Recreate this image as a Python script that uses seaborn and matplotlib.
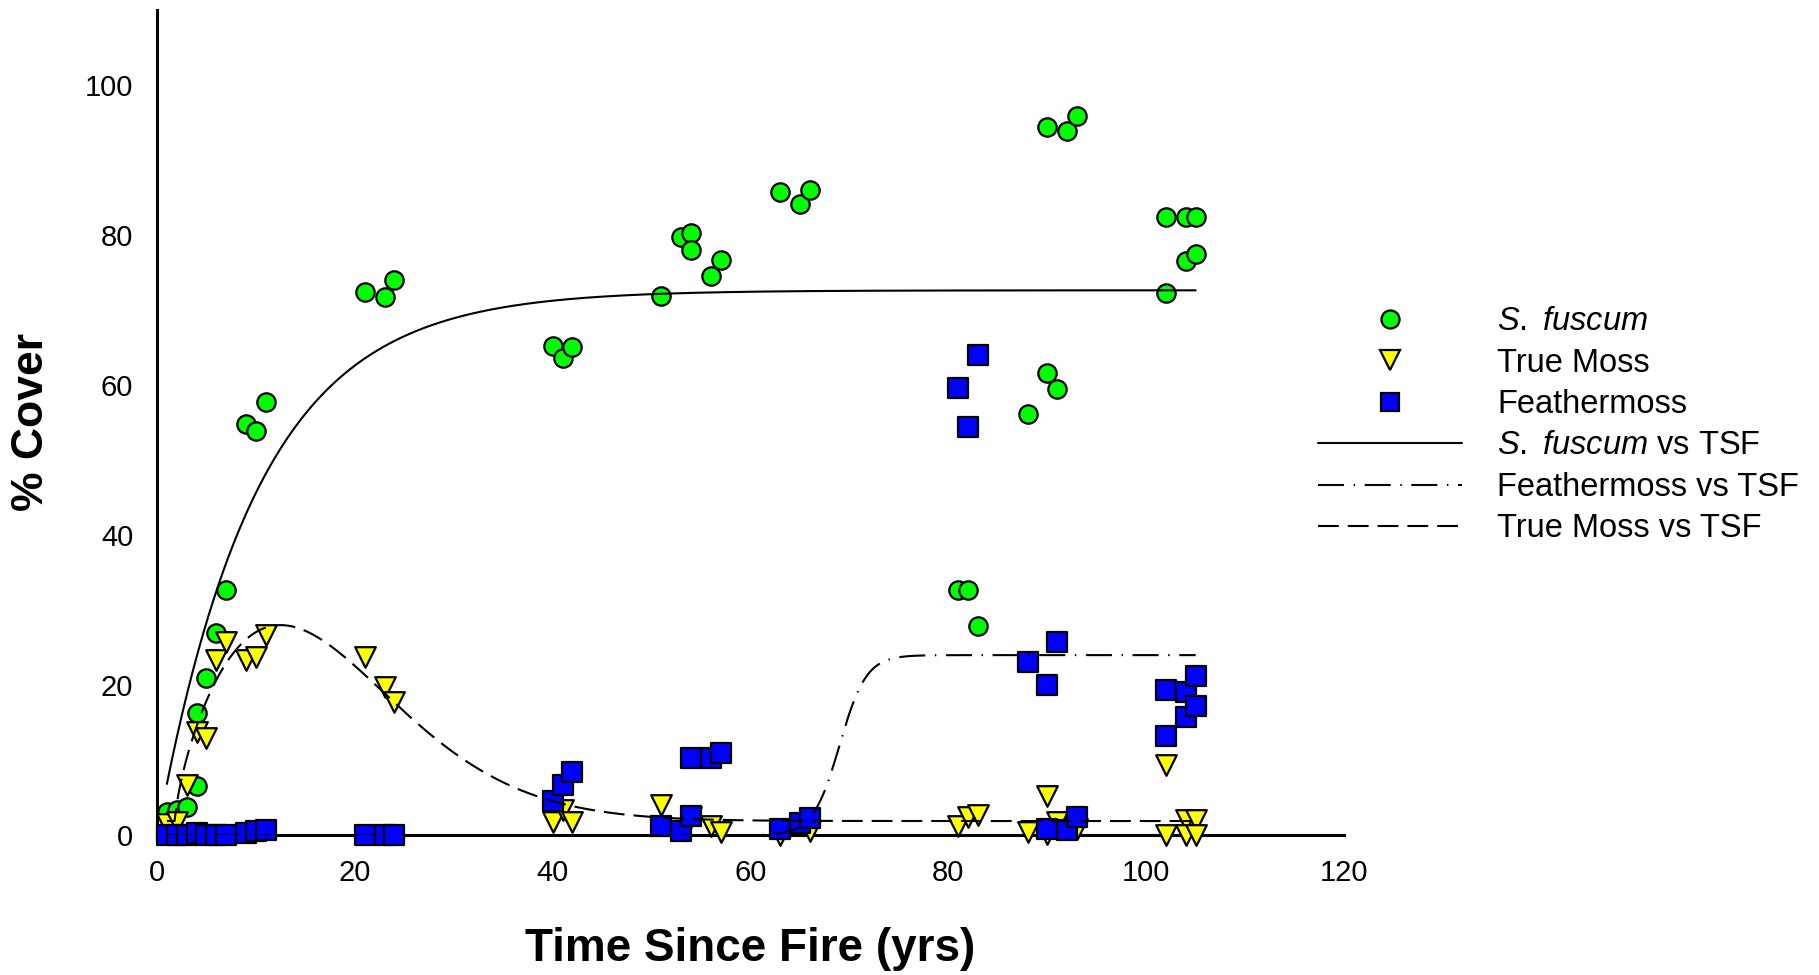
import numpy as np
import matplotlib
matplotlib.use("Agg")
import matplotlib.pyplot as plt
import seaborn as sns
from matplotlib.lines import Line2D

# ---- observed cover (%) by time since fire (yrs) ----
sf_tsf = [1, 2, 3, 4, 4, 5, 6, 7, 9, 10, 11, 21, 23, 24, 40, 41, 42, 51, 53, 54, 54,
          56, 57, 63, 65, 66, 81, 82, 83, 88, 90, 91, 90, 92, 93, 102, 104, 105, 102, 104, 105]
sf_cover = [3.1, 3.4, 3.8, 6.5, 16.3, 21.0, 27.0, 32.7, 54.8, 53.8, 57.7, 72.4, 71.7, 74.0,
            65.2, 63.6, 65.1, 71.8, 79.7, 80.2, 78.0, 74.5, 76.7, 85.7, 84.1, 86.0,
            32.7, 32.7, 27.9, 56.1, 61.6, 59.5, 94.3, 93.8, 95.8, 82.3, 82.3, 82.3,
            72.2, 76.5, 77.5]

tm_tsf = [1, 2, 3, 4, 5, 6, 7, 9, 10, 11, 21, 23, 24, 40, 41, 42, 51, 54, 56, 57, 63, 66,
          81, 82, 83, 88, 90, 90, 91, 93, 102, 102, 104, 105, 104, 105]
tm_cover = [1.5, 1.8, 6.7, 13.8, 13.0, 23.4, 25.8, 23.4, 23.8, 26.7, 23.8, 19.7, 17.8,
            1.8, 3.4, 1.8, 4.0, 2.4, 1.2, 0.4, 0.0, 0.6, 1.2, 2.5, 2.7, 0.5, 5.2, 0.2,
            1.8, 0.9, 9.4, 0.0, 2.0, 2.0, 0.1, 0.0]

fm_tsf = [1, 2, 3, 4, 5, 6, 7, 9, 10, 11, 21, 23, 24, 40, 41, 42, 51, 53, 54, 54, 56, 57,
          63, 65, 66, 81, 82, 83, 88, 90, 91, 90, 92, 93, 102, 102, 104, 104, 105, 105]
fm_cover = [0.0, 0.0, 0.0, 0.3, 0.0, 0.0, 0.0, 0.3, 0.6, 0.7, 0.0, 0.0, 0.0, 4.6, 6.7, 8.4,
            1.3, 0.6, 2.6, 10.3, 10.3, 11.0, 0.9, 1.6, 2.3, 59.6, 54.4, 64.0, 23.1, 20.0,
            25.8, 0.8, 0.7, 2.5, 13.2, 19.4, 19.1, 15.7, 21.2, 17.2]

# ---- regression fits vs TSF ----
sf_fit = dict(a=72.6, b=0.099)                            # exponential rise to maximum
tm_fit = dict(y0=1.9, a=26.1, x0=12.5, b=18.0, c=1.7)     # Weibull peak
fm_fit = dict(a=24.0, x0=69.0, b=1.35)                    # sigmoid
fit_start, fit_end = 1, 105

x_ticks = [0, 20, 40, 60, 80, 100, 120]
y_ticks = [0, 20, 40, 60, 80, 100]

labels = ["$\\mathit{S.\\ fuscum}$", "True Moss", "Feathermoss",
          "$\\mathit{S.\\ fuscum}$ vs TSF", "Feathermoss vs TSF", "True Moss vs TSF"]


def exp_rise(x, a, b):
    return a * (1 - np.exp(-b * x))


def weibull_peak(x, y0, a, x0, b, c):
    k = (c - 1) / c
    t = np.clip((x - x0) / b + k ** (1 / c), 0, None)
    return y0 + a * k ** ((1 - c) / c) * t ** (c - 1) * np.exp(-t ** c + k)


def sigmoid(x, a, x0, b):
    return a / (1 + np.exp(-(x - x0) / b))


sns.set_style("white")
plt.rcParams["font.family"] = ["Liberation Sans", "DejaVu Sans"]
plt.rcParams["mathtext.fontset"] = "custom"
plt.rcParams["mathtext.rm"] = "Liberation Sans"
plt.rcParams["mathtext.it"] = "Liberation Sans:italic"
plt.rcParams["mathtext.bf"] = "Liberation Sans:bold"
plt.rcParams["text.color"] = "black"
plt.rcParams["axes.labelcolor"] = "black"

GREEN, YELLOW, BLUE = "#00FF00", "#FFFF00", "#0000FF"
EW = 1.6
dash = (0, (10.0, 4.3))
dashdot = (0, (12.5, 4.6, 0.7, 4.6))

fig = plt.figure(figsize=(18.19, 9.75), dpi=100)
ax = fig.add_axes([0.0863, 0.1433, 0.6526, 0.8469])

sns.scatterplot(x=sf_tsf, y=sf_cover, marker="o", s=175, color=GREEN, edgecolor="black",
                linewidth=EW, ax=ax, zorder=3, clip_on=False, legend=False)
sns.scatterplot(x=tm_tsf, y=tm_cover, marker="v", s=220, color=YELLOW, edgecolor="black",
                linewidth=EW, ax=ax, zorder=3.1, clip_on=False, legend=False)
sns.scatterplot(x=fm_tsf, y=fm_cover, marker="s", s=190, color=BLUE, edgecolor="black",
                linewidth=EW, ax=ax, zorder=3.2, clip_on=False, legend=False)

xs = np.linspace(fit_start, fit_end, 800)
sns.lineplot(x=xs, y=exp_rise(xs, **sf_fit), color="black", lw=1.5, linestyle="-",
             ax=ax, zorder=4, errorbar=None, legend=False)
sns.lineplot(x=xs, y=sigmoid(xs, **fm_fit), color="black", lw=1.5, linestyle=dashdot,
             ax=ax, zorder=4, errorbar=None, legend=False)
sns.lineplot(x=xs, y=weibull_peak(xs, **tm_fit), color="black", lw=1.5, linestyle=dash,
             ax=ax, zorder=4, errorbar=None, legend=False)

ax.set_xlim(0, 120)
ax.set_ylim(0, 110)
ax.set_xticks(x_ticks)
ax.set_yticks(y_ticks)
for side in ("top", "right"):
    ax.spines[side].set_visible(False)
for side in ("left", "bottom"):
    ax.spines[side].set_linewidth(2.2)
    ax.spines[side].set_color("black")
ax.tick_params(axis="both", direction="in", width=2.2, labelsize=21, pad=17,
               colors="black")
ax.tick_params(axis="x", length=8.5)
ax.tick_params(axis="y", length=11)

ax.set_xlabel("Time Since Fire (yrs)", fontsize=33, fontweight="bold", va="center",
              color="black")
ax.set_ylabel("% Cover", fontsize=32, fontweight="bold", va="center", color="black")
ax.xaxis.set_label_coords(0.5, -0.1377)
ax.yaxis.set_label_coords(-0.1058, 0.5)

handles = [
    Line2D([], [], ls="none", marker="o", ms=13, mfc=GREEN, mec="black", mew=EW),
    Line2D([], [], ls="none", marker="v", ms=14.5, mfc=YELLOW, mec="black", mew=EW),
    Line2D([], [], ls="none", marker="s", ms=13.5, mfc=BLUE, mec="black", mew=EW),
    Line2D([], [], color="black", lw=1.5, ls="-"),
    Line2D([], [], color="black", lw=1.5, ls=dashdot),
    Line2D([], [], color="black", lw=1.5, ls=dash),
]
fig.legend(handles, labels, loc="upper left", bbox_to_anchor=(0.7246, 0.686),
           bbox_transform=fig.transFigure, frameon=False, borderpad=0, borderaxespad=0,
           fontsize=23.5, handlelength=4.42, handletextpad=1.07, labelspacing=0.32,
           numpoints=1)

fig.savefig("out.png", dpi=100)
